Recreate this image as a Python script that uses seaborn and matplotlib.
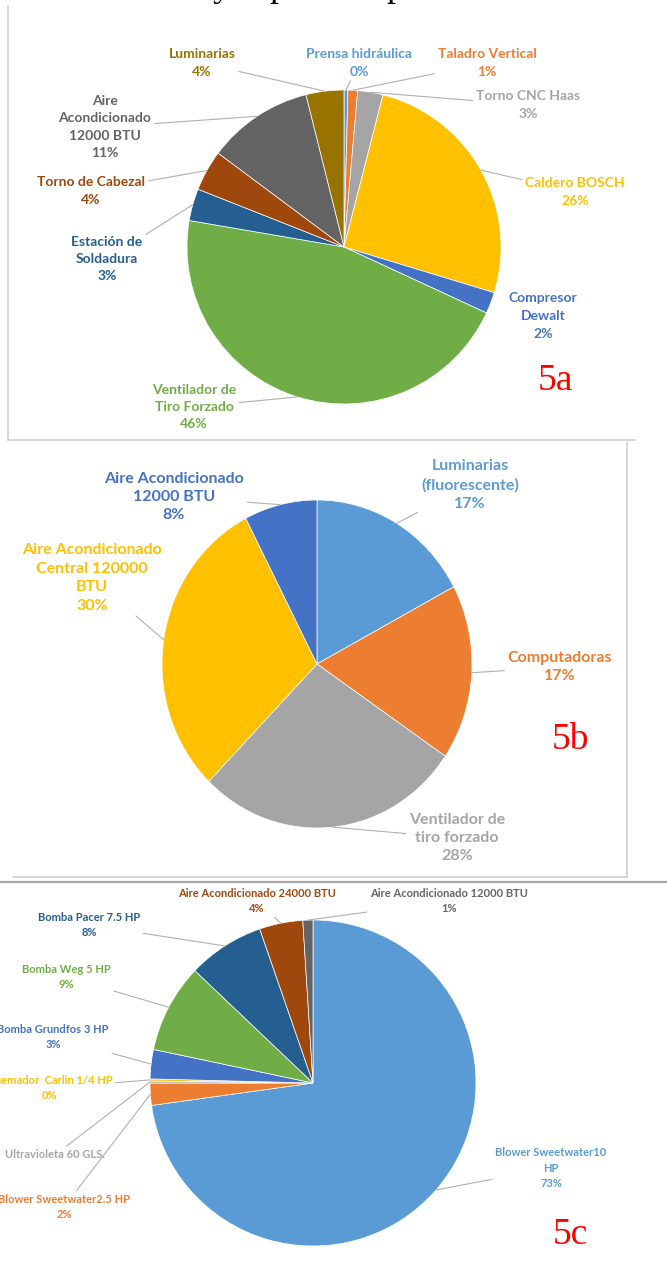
import numpy as np
import matplotlib
matplotlib.use("Agg")
import matplotlib.pyplot as plt
from matplotlib.lines import Line2D
import seaborn as sns

# ---- datos (porcentaje de consumo por equipo) ----
# 5a
equipos_a = ["Prensa hidráulica", "Taladro Vertical", "Torno CNC Haas", "Caldero BOSCH",
             "Compresor\nDewalt", "Ventilador de\nTiro Forzado", "Estación de\nSoldadura",
             "Torno de Cabezal", "Aire\nAcondicionado\n12000 BTU", "Luminarias"]
valores_a = [0.4, 1.0, 2.6, 25.7, 2.2, 45.8, 3.3, 4.2, 10.9, 3.9]

# 5b
equipos_b = ["Luminarias\n(fluorescente)", "Computadoras", "Ventilador de\ntiro forzado",
             "Aire Acondicionado\nCentral 120000\nBTU", "Aire Acondicionado\n12000 BTU"]
valores_b = [17.2, 17.3, 27.8, 30.1, 7.6]

# 5c
equipos_c = ["Blower Sweetwater10\nHP", "Blower Sweetwater2.5 HP", "Ultravioleta 60 GLS.",
             "Quemador  Carlin 1/4 HP", "Bomba Grundfos 3 HP", "Bomba Weg 5 HP",
             "Bomba Pacer 7.5 HP", "Aire Acondicionado 24000 BTU", "Aire Acondicionado 12000 BTU"]
valores_c = [72.8, 2.2, 0.2, 0.2, 2.9, 8.8, 7.6, 4.3, 1.0]

figuras = ["5a", "5b", "5c"]

# paleta de Office
office = sns.color_palette(["#5B9BD5", "#ED7D31", "#A5A5A5", "#FFC000", "#4472C4",
                            "#70AD47", "#255E91", "#9E480E", "#636363", "#997300"])

W, H = 667, 1269

sns.set_style("white")
plt.rcParams["font.family"] = ["Lato", "DejaVu Sans"]

fig = plt.figure(figsize=(W / 100, H / 100), dpi=100)


def fx(x):
    return x / W


def fy(y):
    return 1 - y / H


def draw_pie(values, labels, centre, radius, label_pos, fontsize, spacing,
             no_line=(), no_pct=()):
    cx, cy = centre
    rx, ry = radius
    ax = fig.add_axes([fx(cx - rx), fy(cy + ry), 2 * rx / W, 2 * ry / H])
    wedges, _ = ax.pie(values, colors=office[:len(values)], startangle=90, counterclock=False,
                       wedgeprops=dict(edgecolor="white", linewidth=0.5))
    ax.set_aspect("auto")
    ax.set_xlim(-1, 1)
    ax.set_ylim(-1, 1)
    ax.axis("off")
    for i, (w, lab, pos) in enumerate(zip(wedges, labels, label_pos)):
        txt = lab if i in no_pct else f"{lab}\n{round(values[i])}%"
        ang = np.deg2rad((w.theta1 + w.theta2) / 2)
        props = None if i in no_line else dict(arrowstyle="-", color="#B0B0B0", lw=0.8,
                                               shrinkA=0, shrinkB=0)
        ax.annotate(txt, xy=(np.cos(ang), np.sin(ang)), xycoords="data",
                    xytext=(fx(pos[0]), fy(pos[1])), textcoords="figure fraction",
                    ha="center", va="center", fontsize=fontsize, fontweight="bold",
                    color=w.get_facecolor(), linespacing=spacing, arrowprops=props,
                    annotation_clip=False)
    return ax


# 5a
pos_a = [(359, 63), (487, 63), (528, 105), (575, 192), (543, 316), (194, 407),
         (107, 259), (91, 191), (105, 127), (202, 63)]
draw_pie(valores_a, equipos_a, (344, 247), (157, 157), pos_a, 10, 1.55, no_line=(4,))

# 5b
pos_b = [(470, 485), (560, 667), (457, 838), (92, 578), (174, 497)]
draw_pie(valores_b, equipos_b, (317, 664), (155, 164), pos_b, 11.5, 1.4)

# 5c
pos_c = [(551, 1168), (64, 1207), (55, 1155), (49, 1088), (53, 1037), (66, 977),
         (89, 925), (257, 901), (449, 901)]
draw_pie(valores_c, equipos_c, (313, 1083), (163, 163), pos_c, 8, 1.5, no_pct=(2,))

# etiquetas de figura
for name, (x, y) in zip(figuras, [(555, 381), (571, 740), (570, 1235)]):
    fig.text(fx(x), fy(y), name, color="red", fontsize=27, family="Liberation Serif",
             ha="center", va="center")

# texto cortado del documento (solo asoman los trazos inferiores)
for ch, x in zip(["y", "p", "p"], [222, 278, 395]):
    fig.text(fx(x), fy(-4), ch, fontsize=26, family="Liberation Serif", ha="center",
             va="baseline", color="black")

# marcos de los graficos
marcos = [((8, 8), (6, 440)), ((8, 635), (440, 440)), ((627, 627), (442, 877)),
          ((13, 627), (877, 877))]
for xs, ys in marcos:
    fig.add_artist(Line2D([fx(v) for v in xs], [fy(v) for v in ys], color="#CFCFCF", lw=1.2))
fig.add_artist(Line2D([0, 1], [fy(882), fy(882)], color="#A8A8A8", lw=1.6))

fig.savefig("out.png", dpi=100)
